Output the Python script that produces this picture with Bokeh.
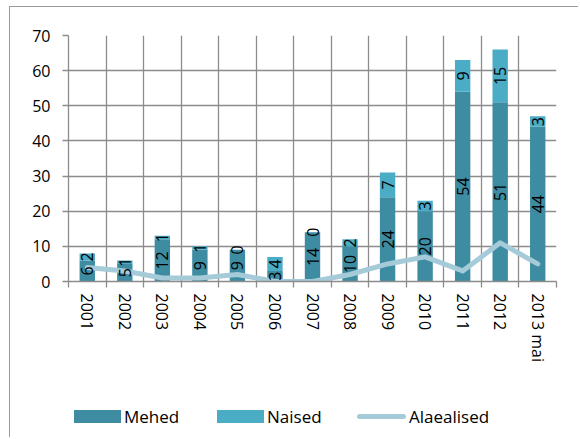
from math import pi
from bokeh.plotting import figure
from bokeh.layouts import column
from bokeh.models import ColumnDataSource, Range1d, FixedTicker, Div
from bokeh.core.properties import value
from bokeh.embed import file_html
from bokeh.resources import INLINE

years = ["2001", "2002", "2003", "2004", "2005", "2006", "2007", "2008",
         "2009", "2010", "2011", "2012", "2013 mai"]
mehed = [6, 5, 12, 9, 9, 3, 14, 10, 24, 20, 54, 51, 44]
naised = [2, 1, 1, 1, 0, 4, 0, 2, 7, 3, 9, 15, 3]
alaealised = [4, 3, 1, 1, 2, 0, 0, 2, 5, 7, 3, 11, 5]
series_names = ["Mehed", "Naised", "Alaealised"]
y_ticks = [0, 10, 20, 30, 40, 50, 60, 70]

C_MEHED = "#3d8ca2"
C_NAISED = "#4bacc6"
C_LINE = "#a5cbd9"
GRID = "#8c8c8c"
FONT = "Open Sans"

n = len(years)
centers = [i + 0.5 for i in range(n)]
bounds = list(range(n + 1))

src = ColumnDataSource(dict(
    x=centers, mehed=mehed, naised=naised, alaealised=alaealised,
    mlabel=[str(v) for v in mehed], nlabel=[str(v) for v in naised],
    my=[m / 2 for m in mehed], ny=[m + f / 2 for m, f in zip(mehed, naised)],
))

W = 568
p = figure(width=W, height=368, output_backend="svg", toolbar_location=None,
           x_range=Range1d(0, n), y_range=Range1d(0, 70),
           min_border_left=58, min_border_right=22, min_border_top=28,
           min_border_bottom=94)
p.outline_line_color = None
p.background_fill_color = "white"
p.border_fill_color = "white"

# grids
p.xgrid.ticker = FixedTicker(ticks=bounds)
p.ygrid.ticker = FixedTicker(ticks=y_ticks)
for g in (p.xgrid, p.ygrid):
    g.grid_line_color = GRID
    g.grid_line_width = 1.3

# x axis
xa = p.xaxis[0]
xa.ticker = FixedTicker(ticks=centers, minor_ticks=bounds)
xa.major_label_overrides = {c: y for c, y in zip(centers, years)}
xa.major_label_orientation = "vertical"
xa.major_tick_line_alpha = 0
xa.major_tick_out = 6
xa.major_tick_in = 0
xa.minor_tick_line_color = GRID
xa.minor_tick_line_width = 1.3
xa.minor_tick_out = 6
xa.minor_tick_in = 0
xa.major_label_standoff = 6

# y axis
ya = p.yaxis[0]
ya.ticker = FixedTicker(ticks=y_ticks)
ya.major_tick_out = 6
ya.major_tick_in = 0
ya.major_tick_line_color = GRID
ya.major_tick_line_width = 1.3
ya.minor_tick_line_color = None
ya.major_label_standoff = 12

for ax in (xa, ya):
    ax.axis_line_color = GRID
    ax.axis_line_width = 1.3
    ax.major_label_text_font = FONT
    ax.major_label_text_font_size = "16px"
    ax.major_label_text_color = "black"

p.vbar_stack(["mehed", "naised"], x="x", width=0.41, source=src,
             color=[C_MEHED, C_NAISED], line_color=None)
p.line("x", "alaealised", source=src, line_color=C_LINE, line_width=5,
       line_cap="round", line_join="round")

for ycol, tcol in (("my", "mlabel"), ("ny", "nlabel")):
    p.text(x="x", y=ycol, text=tcol, source=src, angle=pi / 2,
           text_align="center", text_baseline="middle",
           text_font=value(FONT), text_font_size="16px", text_color="black")

# legend strip
def swatch(left, top, w, h, color, radius=0):
    return (f'<span style="position:absolute;left:{left}px;top:{top}px;width:{w}px;'
            f'height:{h}px;background:{color};border-radius:{radius}px"></span>')

def label(left, text):
    return (f'<span style="position:absolute;left:{left}px;top:30px;height:24px;'
            f'line-height:24px;white-space:nowrap">{text}</span>')

html = (
    f'<div style="position:relative;width:{W}px;height:62px;font-family:\'{FONT}\';'
    f'font-size:17px;color:black">'
    + swatch(64, 35, 47, 13, C_MEHED) + label(114, series_names[0])
    + swatch(207, 35, 47, 13, C_NAISED) + label(257, series_names[1])
    + swatch(347, 39, 49, 5, C_LINE, 3) + label(399, series_names[2])
    + '</div>'
)
legend_div = Div(text=html, width=W, height=62, margin=0)

layout = column(p, legend_div, spacing=0)
layout.styles = {"border-left": "1px solid #9a9a9a", "border-top": "1px solid #9a9a9a",
                 "margin-left": "9px", "margin-top": "6px"}

open("out.html", "w").write(file_html(layout, INLINE))
